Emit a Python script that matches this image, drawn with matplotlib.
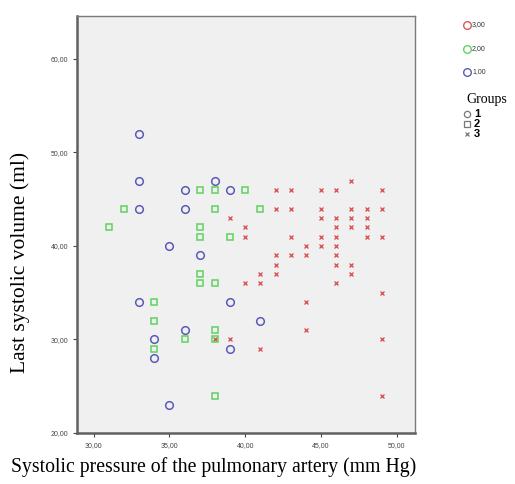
import matplotlib.pyplot as plt
from matplotlib.lines import Line2D
from matplotlib.ticker import FuncFormatter

# Group 1 (blue circles)
g1_x = [33, 33, 33, 33, 34, 34, 35, 35, 36, 36, 36, 37, 38, 39, 39, 39, 41]
g1_y = [52, 47, 44, 34, 30, 28, 40, 23, 46, 44, 31, 39, 47, 46, 34, 29, 32]

# Group 2 (green squares)
g2_x = [31, 32, 34, 34, 34, 36, 37, 37, 37, 37, 37, 38, 38, 38, 38, 38, 38, 39, 40, 41]
g2_y = [42, 44, 34, 32, 29, 30, 46, 42, 41, 37, 36, 46, 44, 36, 31, 30, 24, 41, 46, 44]

# Group 3 (red crosses)
g3_x = [47,
        42, 43, 45, 46, 49,
        42, 43, 45, 47, 48, 49,
        39, 45, 46, 47, 48,
        40, 46, 47, 48,
        40, 43, 45, 46, 48, 49,
        44, 45, 46,
        42, 43, 44, 46,
        42, 46, 47,
        41, 42, 47,
        40, 41, 46,
        49, 44, 44,
        38, 39, 49,
        41, 49]
g3_y = [47,
        46, 46, 46, 46, 46,
        44, 44, 44, 44, 44, 44,
        43, 43, 43, 43, 43,
        42, 42, 42, 42,
        41, 41, 41, 41, 41, 41,
        40, 40, 40,
        39, 39, 39, 39,
        38, 38, 38,
        37, 37, 37,
        36, 36, 36,
        35, 34, 31,
        30, 30, 30,
        29, 24]

blue = '#5b5bb8'
green = '#5fd25f'
red = '#d85a5a'

fig = plt.figure(figsize=(5.15, 4.84), dpi=100)
fig.patch.set_facecolor('white')
ax = fig.add_axes([0.1495, 0.1054, 0.6565, 0.8616])
ax.set_facecolor('#f0f0f0')

ax.plot(g3_x, g3_y, linestyle='none', marker='x', markersize=3.5, mew=1.0, color=red)
ax.plot(g2_x, g2_y, linestyle='none', marker='s', markersize=5, mew=1.1,
        markerfacecolor='none', markeredgecolor=green)
ax.plot(g1_x, g1_y, linestyle='none', marker='o', markersize=5.5, mew=1.1,
        markerfacecolor='none', markeredgecolor=blue)

ax.set_xlim(28.9, 51.2)
ax.set_ylim(20, 64.6)
ax.set_xticks([30, 35, 40, 45, 50])
ax.set_yticks([20, 30, 40, 50, 60])
fmt = FuncFormatter(lambda v, p: f'{v:.2f}'.replace('.', ','))
ax.xaxis.set_major_formatter(fmt)
ax.yaxis.set_major_formatter(fmt)
ax.tick_params(labelsize=5, colors='#444444', length=3, width=0.8,
               top=False, right=False)
for lab in ax.get_xticklabels() + ax.get_yticklabels():
    lab.set_family('Liberation Sans')
for s in ax.spines.values():
    s.set_color('#7a7a7a')
    s.set_linewidth(1.0)
ax.spines['left'].set_linewidth(1.8)
ax.spines['bottom'].set_linewidth(1.8)
ax.spines['left'].set_color('#606060')
ax.spines['bottom'].set_color('#606060')

ax.set_xlabel('Systolic pressure of the pulmonary artery (mm Hg)',
              family='Liberation Serif', fontsize=14.2)
ax.xaxis.set_label_coords(0.405, -0.058)
ax.set_ylabel('Last systolic volume (ml)', family='Liberation Serif',
              fontsize=15.5)
ax.yaxis.set_label_coords(-0.14, 0.41)

# colour legend (top right), positions in figure pixels
W, H = 515, 484
def fx(px):
    return px / W
def fy(py):
    return 1 - py / H

for py, col, lab in [(25, red, '3,00'), (49, green, '2,00'), (72, blue, '1,00')]:
    fig.add_artist(Line2D([fx(467)], [fy(py)], marker='o', markersize=5.5,
                          markerfacecolor='none', markeredgecolor=col, mew=1.0,
                          linestyle='none'))
    fig.text(fx(472), fy(py), lab, fontsize=5, family='Liberation Sans',
             color='#333333', va='center', ha='left')

fig.text(fx(487), fy(100), 'Groups', fontsize=10, family='Liberation Serif',
         ha='center', va='center')
for py, mk, lab in [(114, 'o', '1'), (124, 's', '2'), (134, 'x', '3')]:
    fig.add_artist(Line2D([fx(467)], [fy(py)], marker=mk, markersize=4.5 if mk != 'x' else 3.5,
                          markerfacecolor='none', markeredgecolor='#777777',
                          color='#777777', mew=0.9, linestyle='none'))
    fig.text(fx(474), fy(py), lab, fontsize=8, fontweight='bold',
             family='Liberation Sans', va='center', ha='left')

fig.savefig('out.png', dpi=100)
